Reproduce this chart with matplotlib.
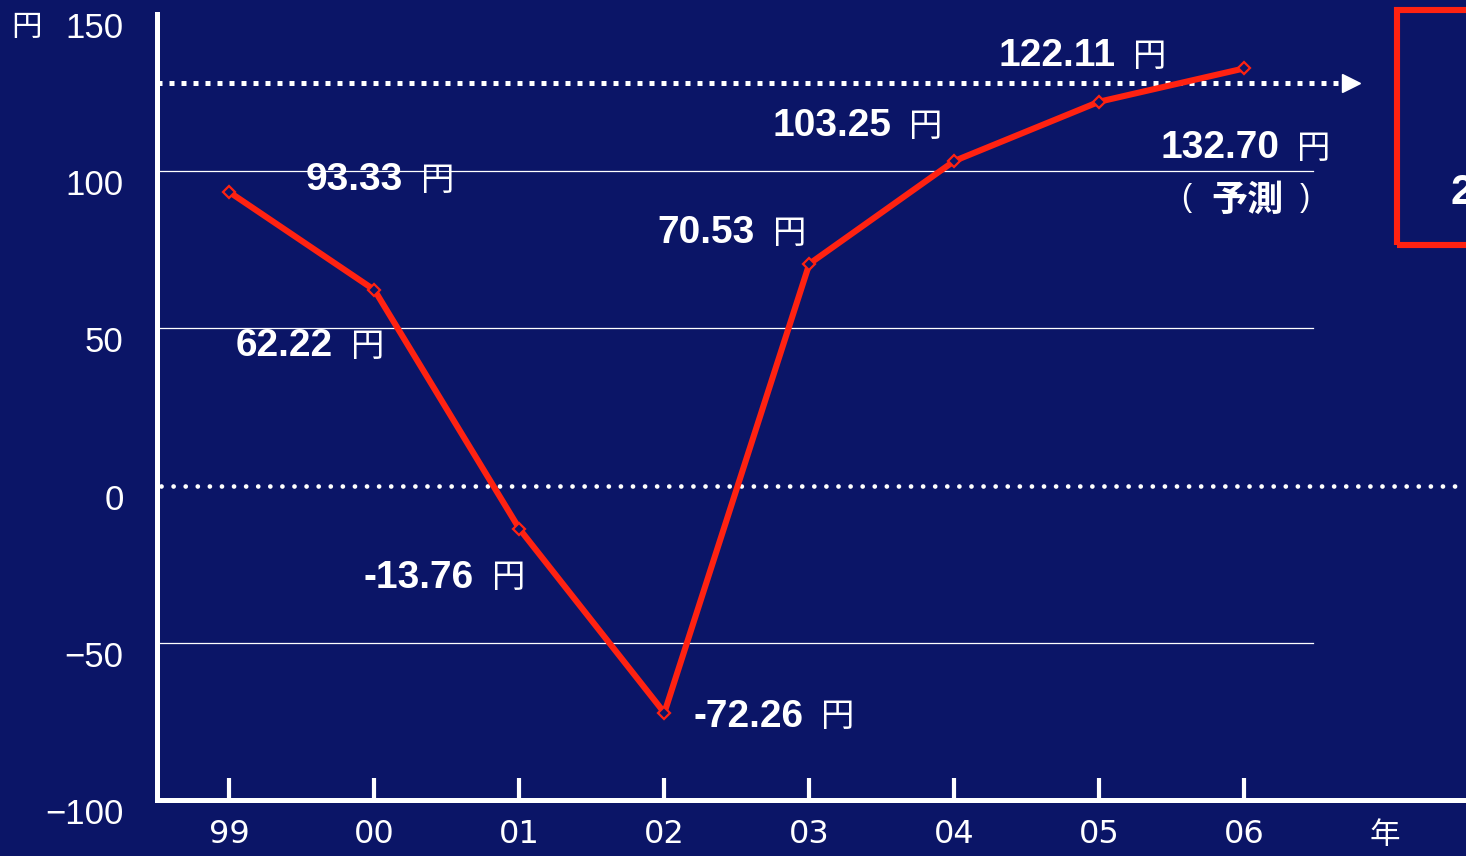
import matplotlib
matplotlib.use("Agg")
import matplotlib.pyplot as plt
from matplotlib.patches import Rectangle
from matplotlib.transforms import ScaledTranslation

years = ["99", "00", "01", "02", "03", "04", "05", "06"]
values = [93.33, 62.22, -13.76, -72.26, 70.53, 103.25, 122.11, 132.70]
value_labels = ["93.33", "62.22", "-13.76", "-72.26", "70.53", "103.25", "122.11", "132.70"]
unit = "円"
# label anchor positions (data coords, left-aligned)
label_pos = [(0.524, 97.1), (0.041, 44.3), (0.924, -29.3), (3.2, -73.6),
             (2.952, 80.3), (3.745, 114.3), (5.303, 136.6), (6.421, 107.3)]
yticks = [-100, -50, 0, 50, 100, 150]
ytick_labels = ["\u2212100", "\u221250", "0", "50", "100", "150"]
grid_vals = [100, 50, -50]
target = 128

NAVY = "#0B1567"
RED = "#FF2211"
WHITE = "white"
CJK = ["Noto Sans CJK JP", "DejaVu Sans"]

fig = plt.figure(figsize=(14.66, 8.56), dpi=100, facecolor=NAVY)
ax = fig.add_axes([157/1466, 1-800/856, 1-157/1466, (800-14)/856])
ax.set_facecolor(NAVY)
x = list(range(len(years)))
ax.set_xlim(-0.5, 8.53)
ax.set_ylim(-100, 150)

for g in grid_vals:
    ax.plot([-0.5, 7.476], [g, g], color=WHITE, lw=0.9, zorder=1)
ax.plot([-0.47, 8.53], [0, 0], color=WHITE, lw=3.4, linestyle=(0, (0.01, 2.55)),
        dash_capstyle="round", zorder=1)
ax.plot([-0.5, 7.68], [target, target], color=WHITE, lw=3.6, linestyle=(0, (1, 1.4)), zorder=1)
ax.plot([7.74], [target], marker=">", color=WHITE, markersize=13, zorder=2, clip_on=False)

ax.plot(x, values, color=RED, lw=4.4, zorder=3, solid_joinstyle="round")
ax.plot(x, values, linestyle="none", marker="D", markersize=6.5, markerfacecolor=NAVY,
        markeredgecolor=RED, markeredgewidth=1.6, zorder=4)

for (lx, ly), t in zip(label_pos, value_labels):
    txt = ax.text(lx, ly, t, color=WHITE, fontsize=28, fontweight="bold",
                  family="Liberation Sans", ha="left", va="center", zorder=5)
    ax.annotate(unit, xy=(1, 0.5), xycoords=txt, xytext=(13, 0), textcoords="offset points",
                color=WHITE, fontsize=24, family=CJK, ha="left", va="center", zorder=5)

ax.text(7.02, 90.8, "予測", color=WHITE, fontsize=26, fontweight="bold", family=CJK,
        ha="center", va="center", zorder=5)
ax.text(6.6, 91.5, "(", color=WHITE, fontsize=22, family="Liberation Sans",
        ha="center", va="center", zorder=5)
ax.text(7.42, 91.5, ")", color=WHITE, fontsize=22, family="Liberation Sans",
        ha="center", va="center", zorder=5)

for s in ["top", "right"]:
    ax.spines[s].set_visible(False)
ax.spines["left"].set_color(WHITE)
ax.spines["left"].set_linewidth(3.6)
ax.spines["bottom"].set_color(WHITE)
ax.spines["bottom"].set_linewidth(3.6)

ax.set_xticks(x)
ax.set_xticklabels(years, family="DejaVu Sans", fontsize=23, color=WHITE)
ax.tick_params(axis="x", direction="in", length=16, width=3, color=WHITE, pad=14)
ax.set_yticks(yticks)
ax.set_yticklabels(ytick_labels, family="Liberation Sans", fontsize=25, color=WHITE)
ax.tick_params(axis="y", length=0, pad=24)
off = ScaledTranslation(0, -11/100, fig.dpi_scale_trans)
for lab in ax.get_yticklabels():
    lab.set_transform(lab.get_transform() + off)

fig.text(27/1466, 1-27/856, "円", color=WHITE, fontsize=22, family=CJK,
         ha="center", va="center")
fig.text(1385/1466, 1-835/856, "年", color=WHITE, fontsize=22, family=CJK,
         ha="center", va="center")

fig.patches.append(Rectangle((1397/1466, 1-245/856), 100/1466, (245-10)/856,
                             transform=fig.transFigure, fill=False, edgecolor=RED, lw=4.4))
fig.text(1450/1466, 1-193/856, "2", color=WHITE, fontsize=30, fontweight="bold",
         family="Liberation Sans", ha="left", va="center")

fig.savefig("out.png", dpi=100, facecolor=NAVY)
